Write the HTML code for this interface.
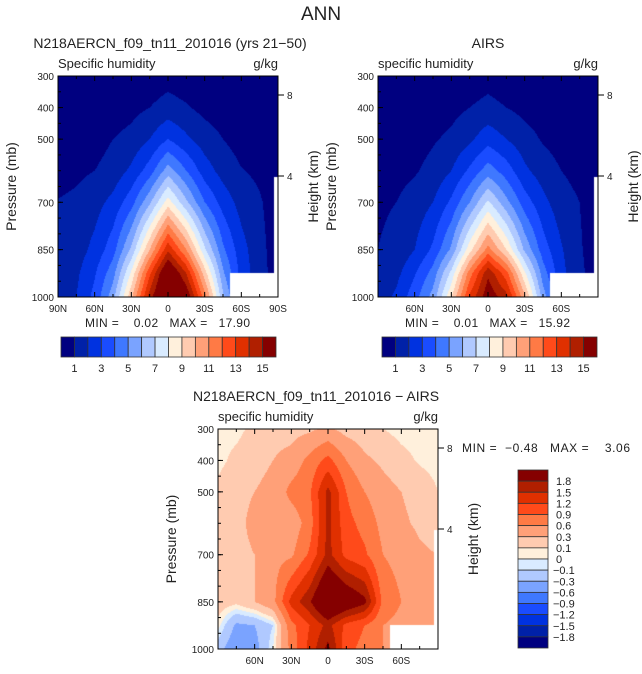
<!DOCTYPE html>
<html><head><meta charset="utf-8"><style>
body{margin:0;background:#fff;width:642px;height:674px;overflow:hidden;position:relative;font-family:"Liberation Sans",sans-serif}
canvas{position:absolute}
svg{position:absolute;left:0;top:0}
text{fill:#222;font-family:"Liberation Sans",sans-serif}
</style></head><body>
<canvas id="c1"></canvas>
<canvas id="c2"></canvas>
<canvas id="c3"></canvas>
<svg id="s" width="642" height="674"></svg>
<script>
// latitudes left(90N=90) to right(90S=-90)
const lats=[90,75,60,45,30,15,0,-15,-30,-45,-60,-75,-90];
const pres=[300,400,500,600,700,850,925,1000];
const modelQ=[
[0.3,0.3,0.3,0.3,0.3,0.4,0.6,0.4,0.3,0.3,0.3,0.3,0.3],
[0.4,0.4,0.4,0.5,0.7,1.0,1.4,1.1,0.7,0.5,0.4,0.4,0.4],
[0.4,0.5,0.6,1.0,1.3,2.0,3.0,2.2,1.5,1.0,0.6,0.4,0.4],
[0.6,0.8,1.0,1.4,2.2,3.5,5.5,4.0,2.5,1.6,1.05,0.8,0.4],
[1.05,1.2,1.6,2.3,3.6,5.8,8.5,6.2,4.0,2.6,1.6,1.1,0.5],
[1.2,1.5,2.3,3.6,6.2,10.0,13.8,11.0,7.2,4.2,2.4,1.3,0.5],
[1.3,1.8,2.9,4.6,8.2,12.8,16.8,14.0,9.5,5.2,2.6,1.4,0.5],
[1.5,2.0,3.3,5.6,9.8,14.5,17.7,16.0,11.5,6.2,3.1,2.0,1.0]];
const airsQ=[
[0.3,0.3,0.3,0.3,0.3,0.4,0.6,0.4,0.3,0.3,0.3,0.3,0.3],
[0.4,0.4,0.4,0.5,0.7,1.0,1.3,1.0,0.7,0.5,0.4,0.4,0.4],
[0.4,0.5,0.6,0.9,1.2,1.8,2.6,2.0,1.4,0.9,0.6,0.4,0.4],
[0.5,0.7,0.9,1.3,2.0,3.2,4.5,3.5,2.2,1.5,1.0,0.7,0.4],
[0.9,1.0,1.4,2.0,3.2,5.0,7.2,5.3,3.5,2.3,1.4,1.0,0.5],
[1.0,1.2,2.0,3.2,5.2,8.6,11.4,9.0,5.8,3.5,2.1,1.1,0.5],
[1.1,1.7,2.9,4.4,7.3,11.5,14.8,12.4,8.2,4.5,2.3,1.2,0.5],
[1.4,2.2,3.6,5.4,8.9,13.2,15.8,14.4,10.2,5.5,2.8,1.8,0.9]];
const diffQ=[
[0.05,0.05,0.15,0.2,0.2,0.25,0.35,0.2,0.15,0.1,0.05,0.05,0.05],
[0.05,0.15,0.25,0.3,0.4,0.7,1.0,0.6,0.35,0.25,0.15,0.08,0.05],
[0.15,0.25,0.3,0.35,0.7,0.85,1.6,0.9,0.6,0.4,0.3,0.2,0.1],
[0.2,0.25,0.35,0.45,0.4,0.75,1.6,1.0,0.8,0.5,0.35,0.25,0.15],
[0.2,0.25,0.3,0.5,0.55,0.95,1.6,1.1,0.95,0.6,0.5,0.35,0.3],
[0.2,0.15,0.3,0.5,1.3,1.75,2.5,2.2,1.9,0.8,0.6,0.4,0.3],
[0.05,-0.35,-0.3,-0.1,0.8,1.2,1.6,1.1,0.9,0.6,0.5,0.4,0.3],
[-0.2,-0.5,-0.4,0.0,0.7,1.3,1.9,1.0,0.8,0.6,0.5,0.4,0.3]];
const qLevels=[1,2,3,4,5,6,7,8,9,10,11,12,13,14,15];
const qLabels=["1","3","5","7","9","11","13","15"];
const dLevels=[-1.8,-1.5,-1.2,-0.9,-0.6,-0.3,-0.1,0,0.1,0.3,0.6,0.9,1.2,1.5,1.8];
const dLabels=["1.8","1.5","1.2","0.9","0.6","0.3","0.1","0","−0.1","−0.3","−0.6","−0.9","−1.2","−1.5","−1.8"];
const pTicks=[300,400,500,700,850,1000];
const colors=["#000080","#0021a8","#0032e0","#1a4cff","#3f78ff","#7aa3ff","#b0c9ff","#d9ebff","#fff0dc","#ffcbb0","#ffa078","#ff7a45","#ff4a1a","#e03000","#b01f00","#850000"];
function hex(c){return [parseInt(c.substr(1,2),16),parseInt(c.substr(3,2),16),parseInt(c.substr(5,2),16)];}
const rgb=colors.map(hex);
const S=document.getElementById('s');
const NS="http://www.w3.org/2000/svg";
function el(tag,attrs,txt){const e=document.createElementNS(NS,tag);for(const k in attrs)e.setAttribute(k,attrs[k]);if(txt!==undefined)e.textContent=txt;S.appendChild(e);return e;}
function interp(arr,xs,v){
  const dec=xs[0]>xs[xs.length-1];
  for(let i=0;i<xs.length-1;i++){const a=xs[i],b=xs[i+1];
    if(dec?(v<=a&&v>=b):(v>=a&&v<=b)){return [i,(v-a)/(b-a)];}}
  return [xs.length-2,1];
}
function drawPanel(id,grid,levels,x0,y0,w,h,maskBox){
  const cv=document.getElementById(id);cv.width=w;cv.height=h;cv.style.left=x0+'px';cv.style.top=y0+'px';
  const ctx=cv.getContext('2d');const img=ctx.createImageData(w,h);
  for(let py=0;py<h;py++){const p=300+(py+0.5)/h*700;const [j,fy]=interp(null,pres,p);
    for(let px=0;px<w;px++){const lat=90-(px+0.5)/w*180;const [i,fx]=interp(null,lats,lat);
      const v=(grid[j][i]*(1-fx)+grid[j][i+1]*fx)*(1-fy)+(grid[j+1][i]*(1-fx)+grid[j+1][i+1]*fx)*fy;
      let k=0;while(k<levels.length&&v>=levels[k])k++;
      let c=rgb[k];
      if(maskBox&&((lat<-51&&p>925)||(lat<-87&&p>620)))c=[255,255,255];
      const o=(py*w+px)*4;img.data[o]=c[0];img.data[o+1]=c[1];img.data[o+2]=c[2];img.data[o+3]=255;}}
  ctx.putImageData(img,0,0);
}
function axes(name,x0,y0,w,h,latLbl,title,sub,subX){
  const X=lat=>x0+(90-lat)/180*w, Y=p=>y0+(p-300)/700*h;
  el('rect',{x:x0,y:y0,width:w,height:h,fill:'none',stroke:'#000','stroke-width':1,});
  for(let lat=90;lat>=-90;lat-=15){const maj=lat%30===0;const L=maj?5:3;
    el('line',{x1:X(lat),x2:X(lat),y1:y0+h,y2:y0+h-L,stroke:'#000'});
    el('line',{x1:X(lat),x2:X(lat),y1:y0,y2:y0+L,stroke:'#000'});}
  latLbl.forEach(([lat,t])=>el('text',{x:X(lat),y:y0+h+15,'font-size':10,'text-anchor':'middle',},t));
  pTicks.forEach(p=>{el('line',{x1:x0,x2:x0+5,y1:Y(p),y2:Y(p),stroke:'#000'});
    el('text',{x:x0-4,y:Y(p)+4,'font-size':10,'text-anchor':'end',},p);});
  for(let p=350;p<1000;p+=50){el('line',{x1:x0,x2:x0+3,y1:Y(p),y2:Y(p),stroke:'#000'});}
  el('line',{x1:x0+w,x2:x0+w+6,y1:y0+19,y2:y0+19,stroke:'#000'});
  el('line',{x1:x0+w,x2:x0+w+6,y1:y0+100,y2:y0+100,stroke:'#000'});
  el('text',{x:x0+w+9,y:y0+23,'font-size':10,},'8');
  el('text',{x:x0+w+9,y:y0+104,'font-size':10,},'4');
  el('text',{x:0,y:0,'font-size':14,'text-anchor':'middle',transform:`translate(${x0+w+40},${y0+h/2}) rotate(-90)`,},'Height (km)');
  el('text',{x:0,y:0,'font-size':14,'text-anchor':'middle',transform:`translate(${x0-42},${y0+h/2}) rotate(-90)`,},'Pressure (mb)');
  el('text',{x:x0,y:y0-8,'font-size':13,},sub);
  el('text',{x:x0+w,y:y0-8,'font-size':13,'text-anchor':'end',},'g/kg');
  el('text',{x:subX,y:y0-28,'font-size':14,'text-anchor':'middle',},title);
}
function hbar(name,x0,y0,w,h){
  const n=colors.length,bw=w/n;
  colors.forEach((c,i)=>el('rect',{x:x0+i*bw,y:y0,width:bw,height:h,fill:c,stroke:'#333','stroke-width':0.8,}));
  qLabels.forEach((t,i)=>el('text',{x:x0+(2*i+1)*bw,y:y0+h+15,'font-size':11,'text-anchor':'middle',},t));
}
el('text',{x:321,y:20,'font-size':19,'text-anchor':'middle',fill:'#333',},'ANN');
drawPanel('c1',modelQ,qLevels,58,76,220,221,true);
drawPanel('c2',airsQ,qLevels,378,76,220,221,true);
drawPanel('c3',diffQ,dLevels,218,429,220,220,true);
axes('model',58,76,220,221,[[90,'90N'],[60,'60N'],[30,'30N'],[0,'0'],[-30,'30S'],[-60,'60S'],[-90,'90S']],'N218AERCN_f09_tn11_201016 (yrs 21−50)','Specific humidity',170);
axes('airs',378,76,220,221,[[60,'60N'],[30,'30N'],[0,'0'],[-30,'30S'],[-60,'60S']],'AIRS','specific humidity',488);
axes('diff',218,429,220,220,[[60,'60N'],[30,'30N'],[0,'0'],[-30,'30S'],[-60,'60S']],'N218AERCN_f09_tn11_201016 − AIRS','specific humidity',316);
el('text',{x:85,y:327,'font-size':12,textLength:165,},'MIN =\u00a0\u00a0\u00a0\u00a00.02\u00a0\u00a0\u00a0MAX =\u00a0\u00a0\u00a017.90');
el('text',{x:405,y:327,'font-size':12,textLength:165,},'MIN =\u00a0\u00a0\u00a0\u00a00.01\u00a0\u00a0\u00a0MAX =\u00a0\u00a0\u00a015.92');
el('text',{x:462,y:452,'font-size':12,textLength:168,},'MIN =\u00a0\u00a0−0.48\u00a0\u00a0\u00a0MAX =\u00a0\u00a0\u00a0\u00a03.06');
hbar('model-colorbar',61,337,215,20);
hbar('airs-colorbar',382,337,215,20);
{const x0=518,y0=470,w=30,h=178,n=colors.length,bh=h/n;
 for(let i=0;i<n;i++){el('rect',{x:x0,y:y0+i*bh,width:w,height:bh,fill:colors[n-1-i],stroke:'#333','stroke-width':0.8,});}
 dLabels.forEach((t,i)=>el('text',{x:t.startsWith('−')?553:556,y:y0+(i+1)*bh+4,'font-size':11,},t));}
</script>
</body></html>
